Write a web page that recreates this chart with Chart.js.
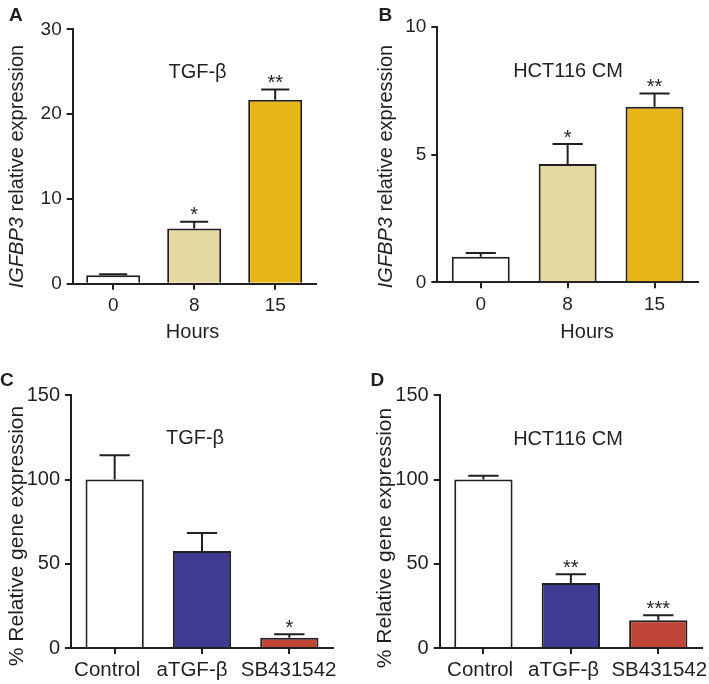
<!DOCTYPE html>
<html>
<head>
<meta charset="utf-8">
<script src="https://cdn.jsdelivr.net/npm/chart.js@4.4.0/dist/chart.umd.min.js"></script>
<style>
  body { margin: 0; background: #fff; }
  #fig { position: relative; width: 709px; height: 684px; background: #fff; overflow: hidden; }
  canvas { position: absolute; }
</style>
</head>
<body>
<div id="fig">
  <canvas id="panelA" width="354" height="342" style="left:0;top:0"></canvas>
  <canvas id="panelB" width="355" height="342" style="left:354px;top:0"></canvas>
  <canvas id="panelC" width="354" height="342" style="left:0;top:342px"></canvas>
  <canvas id="panelD" width="355" height="342" style="left:354px;top:342px"></canvas>
</div>
<script>
// data
const hoursLabels = ['0', '8', '15'];
const treatLabels = ['Control', 'aTGF-β', 'SB431542'];

const tgfTimeMean = [1.0, 6.5, 21.7];
const tgfTimeErr = [0.1, 0.8, 1.2];
const tgfTimeStars = ['', '*', '**'];

const hctTimeMean = [1.0, 4.63, 6.87];
const hctTimeErr = [0.15, 0.78, 0.52];
const hctTimeStars = ['', '*', '**'];

const tgfBlockMean = [100, 57.6, 6.1];
const tgfBlockErr = [14.4, 10.7, 2.0];
const tgfBlockStars = ['', '', '*'];

const hctBlockMean = [100, 38.6, 16.4];
const hctBlockErr = [2.3, 5.2, 3.0];
const hctBlockStars = ['', '**', '***'];

const timeTicks = [[0, 10, 20, 30], [0, 5, 10]];
const pctTicks = [0, 50, 100, 150];

const timeColors = ['#ffffff', '#e6d8a2', '#e6b617'];
const treatColors = ['#ffffff', '#3f3a92', '#bf4537'];

const FONT = "'Liberation Sans', Arial, Helvetica, sans-serif";
const INK = '#231f20';

// error bars, stars and the text around each panel
function makeOverlay(o) {
  return {
    id: 'overlay',
    afterDatasetsDraw(chart) {
      const ctx = chart.ctx;
      const y = chart.scales.y;
      const vals = chart.data.datasets[0].data;
      ctx.save();
      ctx.strokeStyle = INK;
      ctx.lineWidth = 2;
      ctx.fillStyle = INK;
      ctx.font = '20px ' + FONT;
      ctx.textAlign = 'center';
      ctx.textBaseline = 'alphabetic';
      chart.getDatasetMeta(0).data.forEach((bar, i) => {
        const top = y.getPixelForValue(vals[i] + o.err[i]);
        const half = bar.width * 0.26;
        ctx.beginPath();
        ctx.moveTo(bar.x, bar.y);
        ctx.lineTo(bar.x, top);
        ctx.moveTo(bar.x - half, top);
        ctx.lineTo(bar.x + half, top);
        ctx.stroke();
        if (o.stars[i]) ctx.fillText(o.stars[i], bar.x, top - 12 + 11.5);
      });
      ctx.restore();
    },
    afterDraw(chart) {
      const ctx = chart.ctx;
      ctx.save();
      ctx.fillStyle = INK;
      ctx.textBaseline = 'alphabetic';
      // panel letter
      ctx.font = 'bold 19px ' + FONT;
      ctx.textAlign = 'left';
      ctx.fillText(o.letter, o.letterAt[0], o.letterAt[1]);
      // panel title
      ctx.font = '20px ' + FONT;
      ctx.textAlign = 'center';
      ctx.fillText(o.title, o.titleAt[0], o.titleAt[1]);
      // x axis title
      if (o.xTitle) {
        ctx.font = '20px ' + FONT;
        ctx.fillText(o.xTitle, o.xTitleAt[0], o.xTitleAt[1]);
      }
      // category labels that sit a little off their ticks in the original
      if (o.xShift) {
        const xs = chart.scales.x;
        ctx.font = o.xFont + 'px ' + FONT;
        chart.data.labels.forEach((lab, i) => {
          ctx.fillText(lab, xs.getPixelForTick(i) + o.xShift[i], xs.top + o.xBase);
        });
      }
      // y axis title, may have an italic part
      ctx.translate(o.yTitleAt[0], o.yTitleAt[1]);
      ctx.rotate(-Math.PI / 2);
      ctx.textAlign = 'left';
      const fs = o.yTitleSize;
      const parts = o.yTitle;
      let total = 0;
      parts.forEach(p => {
        ctx.font = (p.italic ? 'italic ' : '') + fs + 'px ' + FONT;
        total += ctx.measureText(p.text).width;
      });
      let x = -total / 2;
      parts.forEach(p => {
        ctx.font = (p.italic ? 'italic ' : '') + fs + 'px ' + FONT;
        ctx.fillText(p.text, x, 0);
        x += ctx.measureText(p.text).width;
      });
      ctx.restore();
    }
  };
}

function makePanel(id, o) {
  const canvas = document.getElementById(id);
  const W = canvas.width, H = canvas.height;
  const a = o.area; // left, top, right, bottom of the plot box
  return new Chart(canvas, {
    type: 'bar',
    data: {
      labels: o.labels,
      datasets: [{
        data: o.mean,
        backgroundColor: o.colors,
        borderColor: INK,
        borderWidth: 2,
        barPercentage: 0.667,
        categoryPercentage: 1
      }]
    },
    options: {
      responsive: false,
      animation: false,
      devicePixelRatio: 1,
      layout: { padding: { left: 0, top: a[1], right: W - a[2], bottom: 0 } },
      plugins: { legend: { display: false }, tooltip: { enabled: false } },
      scales: {
        x: {
          z: 1,
          grid: { drawOnChartArea: false, offset: false, tickLength: 6, color: INK, lineWidth: 2 },
          border: { color: INK, width: 2 },
          ticks: { display: !o.xShift, color: INK, font: { family: FONT, size: o.xFont }, padding: 5, maxRotation: 0, autoSkip: false },
          afterFit(s) { s.height = H - a[3]; s.paddingLeft = 0; s.paddingRight = 0; }
        },
        y: {
          z: 1,
          min: 0,
          max: o.ticks[o.ticks.length - 1],
          afterBuildTicks(s) { s.ticks = o.ticks.map(v => ({ value: v })); },
          grid: { drawOnChartArea: false, tickLength: 6, color: INK, lineWidth: 2 },
          border: { color: INK, width: 2 },
          ticks: { color: INK, font: { family: FONT, size: o.yFont }, padding: 5 },
          afterFit(s) { s.width = a[0]; s.paddingTop = 0; s.paddingBottom = 0; }
        }
      }
    },
    plugins: [makeOverlay(o)]
  });
}

const yTimeTitle = [{ text: 'IGFBP3', italic: true }, { text: ' relative expression', italic: false }];
const yPctTitle = [{ text: '% Relative gene expression', italic: false }];

makePanel('panelA', {
  labels: hoursLabels, mean: tgfTimeMean, err: tgfTimeErr, stars: tgfTimeStars, colors: timeColors,
  ticks: timeTicks[0], area: [72.7, 29.3, 315.7, 283.7], xFont: 19, yFont: 19,
  letter: 'A', letterAt: [9, 21], title: 'TGF-β', titleAt: [197.5, 78],
  xTitle: 'Hours', xTitleAt: [192.5, 338], yTitle: yTimeTitle, yTitleSize: 20, yTitleAt: [22.5, 166.5]
});
makePanel('panelB', {
  labels: hoursLabels, mean: hctTimeMean, err: hctTimeErr, stars: hctTimeStars, colors: timeColors,
  ticks: timeTicks[1], area: [83.3, 26.7, 344, 282.3], xFont: 19, yFont: 19,
  letter: 'B', letterAt: [24.5, 20.5], title: 'HCT116 CM', titleAt: [214, 76.7],
  xTitle: 'Hours', xTitleAt: [233, 337.5], yTitle: yTimeTitle, yTitleSize: 20, yTitleAt: [37.5, 166.5]
});
makePanel('panelC', {
  labels: treatLabels, mean: tgfBlockMean, err: tgfBlockErr, stars: tgfBlockStars, colors: treatColors,
  ticks: pctTicks, area: [71, 53.3, 333, 306], xFont: 20.5, yFont: 20,
  xShift: [-7.5, -10, -0.7], xBase: 28.4,
  letter: 'C', letterAt: [0, 43.5], title: 'TGF-β', titleAt: [195, 101.7],
  xTitle: '', yTitle: yPctTitle, yTitleSize: 21, yTitleAt: [22.5, 194]
});
makePanel('panelD', {
  labels: treatLabels, mean: hctBlockMean, err: hctBlockErr, stars: hctBlockStars, colors: treatColors,
  ticks: pctTicks, area: [85.7, 53.3, 348, 306], xFont: 20.5, yFont: 20,
  xShift: [-3.3, -7.3, 1], xBase: 28.4,
  letter: 'D', letterAt: [16.5, 43.5], title: 'HCT116 CM', titleAt: [214, 102.5],
  xTitle: '', yTitle: yPctTitle, yTitleSize: 21, yTitleAt: [37, 196]
});
</script>
</body>
</html>
